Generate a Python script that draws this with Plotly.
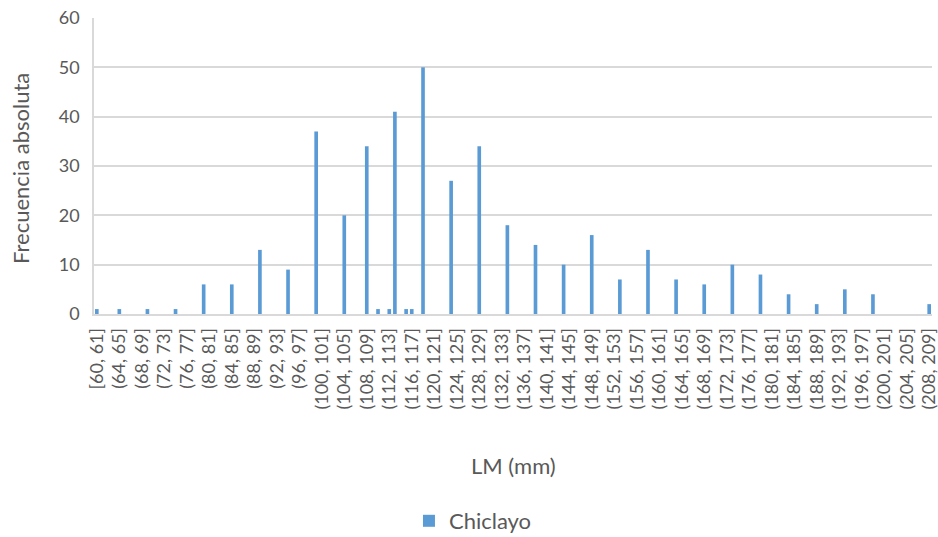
import plotly.graph_objects as go

# ---- data -------------------------------------------------------------
# bins of 1 mm: [60, 61], (61, 62], ... , (208, 209]
bin_start = 60
bin_end = 209
# upper limits of the bins that hold observations, and their counts
lm_upper = [61, 65, 70, 75, 80, 85, 90, 95, 100, 105, 109, 111, 113, 114, 116,
            117, 119, 124, 129, 134, 139, 144, 149, 154, 159, 164, 169, 174,
            179, 184, 189, 194, 199, 209]
frecuencia = [1, 1, 1, 1, 6, 6, 13, 9, 37, 20, 34, 1, 1, 41, 1, 1, 50, 27, 34,
              18, 14, 10, 16, 7, 13, 7, 6, 10, 8, 4, 2, 5, 4, 2]
series_name = "Chiclayo"
x_title = "LM (mm)"
y_title = "Frecuencia absoluta"

# ---- build the category table -------------------------------------------
def label(up):
    lo = up - 1
    return f"[{lo}, {up}]" if lo == bin_start else f"({lo}, {up}]"

categories = [label(u) for u in range(bin_start + 1, bin_end + 1)]
x_vals = [label(u) for u in lm_upper]
tick_labels = categories[::4]

grey_text = "#595959"
grid = "#d9d9d9"
font_family = "Lato, 'Open Sans', sans-serif"

fig = go.Figure(
    go.Bar(
        x=x_vals,
        y=frecuencia,
        name=series_name,
        marker=dict(color="#5b9bd5", line=dict(width=0)),
        width=0.65,
        showlegend=True,
    )
)

fig.update_layout(
    width=938,
    height=537,
    margin=dict(l=94, r=6, t=18, b=223, autoexpand=False),
    paper_bgcolor="white",
    plot_bgcolor="white",
    font=dict(family=font_family, color=grey_text),
    showlegend=True,
    legend=dict(
        orientation="h",
        xref="container", yref="container",
        x=0.436, xanchor="left",
        y=0.0298, yanchor="middle",
        font=dict(size=22, color=grey_text),
        bgcolor="rgba(0,0,0,0)",
    ),
    xaxis=dict(
        type="category",
        categoryorder="array",
        categoryarray=categories,
        range=[-0.5, len(categories) - 0.5],
        tickmode="array",
        tickvals=tick_labels,
        ticktext=tick_labels,
        tickangle=-90,
        tickfont=dict(size=18, color=grey_text),
        ticklabelstandoff=5,
        showgrid=False,
        showline=True,
        linecolor=grid,
        linewidth=1.5,
        ticks="",
        automargin=False,
        fixedrange=True,
    ),
    yaxis=dict(
        range=[0, 60],
        dtick=10,
        tickfont=dict(size=18, color=grey_text),
        ticklabelstandoff=9,
        showgrid=True,
        gridcolor=grid,
        gridwidth=1.5,
        showline=True,
        linecolor=grid,
        linewidth=1.5,
        zeroline=False,
        ticks="",
        automargin=False,
        fixedrange=True,
    ),
    annotations=[
        dict(text=x_title, xref="paper", yref="paper", x=0.5, y=-0.5135,
             xanchor="center", yanchor="middle", showarrow=False,
             font=dict(size=22, color=grey_text)),
        dict(text=y_title, xref="paper", yref="paper", x=-0.0871, y=0.49,
             xanchor="center", yanchor="middle", textangle=-90, showarrow=False,
             font=dict(size=22, color=grey_text)),
    ],
)

fig.write_html("out.html")
